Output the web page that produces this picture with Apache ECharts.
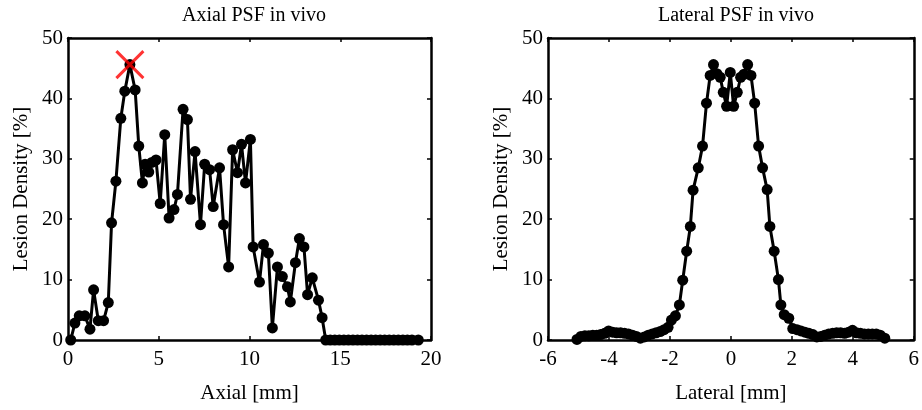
<html>
<head>
    <meta charset="utf-8">
    <script type="text/javascript" src="https://cdn.jsdelivr.net/npm/echarts@6/dist/echarts.min.js"></script>
</head>
<body style="margin:0">
<div id="main" style="height:410px; width:922px"></div>
<script>
    // axial profile
    var axialX = [0.15, 0.38, 0.62, 0.93, 1.21, 1.41, 1.67, 1.96, 2.22, 2.40, 2.64, 2.91, 3.13, 3.41, 3.70, 3.90,
        4.10, 4.25, 4.45, 4.62, 4.85, 5.08, 5.33, 5.57, 5.84, 6.03, 6.34, 6.58, 6.75, 7.00, 7.30, 7.53, 7.80, 8.00,
        8.35, 8.57, 8.85, 9.07, 9.34, 9.56, 9.78, 10.05, 10.20, 10.55, 10.77, 11.04, 11.26, 11.54, 11.81, 12.09,
        12.25, 12.53, 12.75, 13.00, 13.20, 13.46, 13.80, 14.00, 14.20, 14.45, 14.70, 14.95, 15.20, 15.45, 15.70,
        15.95, 16.20, 16.45, 16.70, 16.95, 17.20, 17.45, 17.70, 17.95, 18.20, 18.45, 18.70, 18.95, 19.30];
    var axialY = [0, 2.8, 4.0, 4.0, 1.8, 8.3, 3.2, 3.2, 6.2, 19.4, 26.3, 36.7, 41.2, 45.6, 41.4, 32.1,
        26.0, 29.1, 27.8, 29.4, 29.8, 22.6, 34.0, 20.2, 21.6, 24.1, 38.2, 36.5, 23.3, 31.2, 19.1, 29.1, 28.2, 22.1,
        28.5, 19.1, 12.1, 31.5, 27.7, 32.4, 26.0, 33.2, 15.4, 9.6, 15.8, 14.4, 2.0, 12.1, 10.5, 8.8,
        6.3, 12.8, 16.8, 15.4, 7.5, 10.3, 6.6, 3.7, 0, 0, 0, 0, 0, 0, 0,
        0, 0, 0, 0, 0, 0, 0, 0, 0, 0, 0, 0, 0, 0];

    // lateral profile
    var lateralX = [-5.05, -4.92, -4.79, -4.66, -4.53, -4.40, -4.27, -4.14, -4.01, -3.88, -3.75, -3.62, -3.49,
        -3.36, -3.23, -3.10, -2.97, -2.84, -2.71, -2.58, -2.45, -2.32, -2.19, -2.06, -1.95, -1.82, -1.69, -1.58,
        -1.45, -1.33, -1.24, -1.07, -0.93, -0.80, -0.68, -0.57, -0.46, -0.35, -0.25, -0.14, -0.02, 0.09, 0.21,
        0.32, 0.43, 0.55, 0.66, 0.78, 0.91, 1.04, 1.19, 1.28, 1.42, 1.56, 1.64, 1.75, 1.90, 2.03, 2.17, 2.30,
        2.43, 2.56, 2.69, 2.82, 2.95, 3.08, 3.21, 3.34, 3.47, 3.60, 3.73, 3.86, 3.99, 4.12, 4.25, 4.38, 4.51,
        4.64, 4.77, 4.90, 5.05];
    var lateralY = [0.1, 0.6, 0.7, 0.7, 0.8, 0.8, 0.9, 1.1, 1.5, 1.3, 1.2, 1.2, 1.1,
        1.0, 0.8, 0.6, 0.3, 0.5, 0.8, 1.0, 1.2, 1.4, 1.7, 2.1, 3.3, 4.0, 5.8, 9.9,
        14.7, 18.8, 24.8, 28.5, 32.1, 39.2, 43.8, 45.6, 44.1, 43.5, 41.0, 38.7, 44.3, 38.7, 41.0,
        43.5, 44.0, 45.6, 43.8, 39.2, 32.1, 28.5, 24.9, 18.8, 14.7, 10.0, 5.8, 4.2, 3.6, 1.9, 1.7, 1.5,
        1.3, 1.1, 0.9, 0.5, 0.6, 0.8, 1.0, 1.1, 1.2, 1.2, 1.1, 1.3, 1.6, 1.2, 1.1, 1.0, 1.0,
        1.0, 1.0, 0.8, 0.3];

    var titles = ['Axial PSF in vivo', 'Lateral PSF in vivo'];
    var xNames = ['Axial [mm]', 'Lateral [mm]'];
    var yName = 'Lesion Density [%]';

    function pairs(xs, ys) {
        return xs.map(function (x, i) { return [x, ys[i]]; });
    }

    // peak marker from the axial data
    var peakIdx = axialY.indexOf(Math.max.apply(null, axialY));

    var font = 'Liberation Serif, Times New Roman, serif';

    function xAx(gi, min, max, step, top) {
        return {
            type: 'value', gridIndex: gi, min: min, max: max, interval: step,
            position: top ? 'top' : 'bottom',
            name: top ? '' : xNames[gi], nameLocation: 'middle', nameGap: 43,
            nameTextStyle: {color: '#000', fontFamily: font, fontSize: 21},
            axisLine: {show: true, onZero: false, lineStyle: {color: '#000', width: 2.5}},
            axisTick: {show: true, inside: true, length: 4, lineStyle: {color: '#000', width: 1.5}},
            axisLabel: {show: !top, color: '#000', fontFamily: font, fontSize: 21, margin: 9},
            splitLine: {show: false}
        };
    }

    function yAx(gi, right) {
        return {
            type: 'value', gridIndex: gi, min: 0, max: 50, interval: 10,
            position: right ? 'right' : 'left',
            name: right ? '' : yName, nameLocation: 'middle', nameGap: 36,
            nameTextStyle: {color: '#000', fontFamily: font, fontSize: 21},
            axisLine: {show: true, onZero: false, lineStyle: {color: '#000', width: 2.5}},
            axisTick: {show: true, inside: true, length: 4, lineStyle: {color: '#000', width: 1.5}},
            axisLabel: {show: !right, color: '#000', fontFamily: font, fontSize: 21, margin: 5},
            splitLine: {show: false}
        };
    }

    var myChart = echarts.init(document.getElementById('main'));
    var option = {
        animation: false,
        backgroundColor: '#fff',
        title: [
            {text: titles[0], left: 249, top: 1, textAlign: 'center',
                textStyle: {color: '#000', fontFamily: font, fontSize: 20, fontWeight: 'normal'}},
            {text: titles[1], left: 731, top: 1, textAlign: 'center',
                textStyle: {color: '#000', fontFamily: font, fontSize: 20, fontWeight: 'normal'}}
        ],
        grid: [
            {left: 68, top: 38, width: 363, height: 302},
            {left: 548, top: 38, width: 366, height: 302}
        ],
        xAxis: [
            xAx(0, 0, 20, 5, false), xAx(1, -6, 6, 2, false),
            xAx(0, 0, 20, 5, true), xAx(1, -6, 6, 2, true)
        ],
        yAxis: [
            yAx(0, false), yAx(1, false),
            yAx(0, true), yAx(1, true)
        ],
        series: [
            {
                name: 'axial', type: 'line', xAxisIndex: 0, yAxisIndex: 0,
                data: pairs(axialX, axialY),
                symbol: 'circle', symbolSize: 11, showAllSymbol: true,
                lineStyle: {color: '#000', width: 3},
                itemStyle: {color: '#000'}
            },
            {
                name: 'lateral', type: 'line', xAxisIndex: 1, yAxisIndex: 1,
                data: pairs(lateralX, lateralY),
                symbol: 'circle', symbolSize: 11, showAllSymbol: true,
                lineStyle: {color: '#000', width: 3},
                itemStyle: {color: '#000'}
            },
            {
                name: 'peak', type: 'scatter', xAxisIndex: 0, yAxisIndex: 0,
                data: [[axialX[peakIdx], axialY[peakIdx]]],
                symbol: 'path://M0,0L10,10M10,0L0,10', symbolSize: 27, z: 5,
                itemStyle: {color: 'none', borderColor: '#f00', borderWidth: 3}
            }
        ]
    };
    myChart.setOption(option);
</script>
</body>
</html>
